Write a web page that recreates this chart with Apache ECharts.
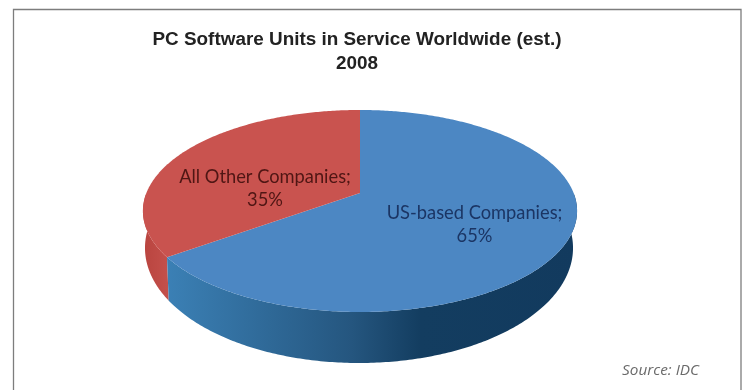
<!DOCTYPE html>
<html>
<head>
<meta charset="utf-8">
<style>html,body{margin:0;padding:0;background:#fff}#c{width:746px;height:390px}</style>
<script src="https://cdn.jsdelivr.net/npm/echarts@6/dist/echarts.min.js"></script>
</head>
<body>
<div id="c"></div>
<script>
const categories = ['US-based Companies', 'All Other Companies'];
const shares = [65, 35];
const titleLines = ['PC Software Units in Service Worldwide (est.)', '2008'];
const sourceNote = 'Source: IDC';

// Perspective disc: top face and the lowered rim of the base.
const disc = { cx: 360, cy: 193, rx: 213.6, ry: 97.8, tilt: 0.178 };
const base = { cx: 359, cy: 227.5, rx: 210.6, ry: 111.4, tilt: 0.178 };
const labelAt = [[474.5, 225], [265, 188.5]];
const topColors = ['#4c87c3', '#c9534f'];
const labelColors = ['#1b3564', '#4f1614'];
const wallFills = [
  { type: 'linear', x: 0, y: 0, x2: 1, y2: 0, colorStops: [
    { offset: 0, color: '#3b80b5' }, { offset: 0.45, color: '#25567f' },
    { offset: 0.62, color: '#133d60' }, { offset: 1, color: '#123a5e' } ] },
  { type: 'linear', x: 0, y: 0, x2: 1, y2: 0, colorStops: [
    { offset: 0, color: '#b9443f' }, { offset: 1, color: '#c4504b' } ] }
];

function project(d, deg) {
  const a = deg * Math.PI / 180, u = Math.sin(a), v = Math.cos(a), w = 1 + d.tilt * v;
  return [d.cx + d.rx * u / w, d.cy - d.ry * v / w];
}
function arc(d, from, to) {
  const pts = [], n = Math.max(2, Math.ceil(Math.abs(to - from) * 1.5));
  for (let i = 0; i <= n; i++) pts.push(project(d, from + (to - from) * i / n));
  return pts;
}

const total = shares.reduce((s, v) => s + v, 0);
const startAngle = shares.map((_, i) => shares.slice(0, i).reduce((s, v) => s + v, 0) / total * 360);

function renderSlice(params, api) {
  const i = params.dataIndex;
  const from = startAngle[i], to = from + api.value(1) / total * 360;
  const rim = arc(disc, from, to);
  // Only the part of the rim facing the viewer gets a wall.
  const wf = Math.max(from, 90), wt = Math.min(to, 270);
  const children = [];
  if (wt > wf) {
    children.push({
      type: 'polygon', z2: i === 0 ? 2 : 1,
      shape: { points: arc(disc, wf, wt).concat(arc(base, wf, wt).reverse()) },
      style: { fill: wallFills[i] }
    });
  }
  children.push({
    type: 'polygon', z2: 3,
    shape: { points: [[disc.cx, disc.cy]].concat(rim) },
    style: { fill: topColors[i] }
  });
  children.push({
    type: 'text', z2: 4,
    style: {
      x: labelAt[i][0], y: labelAt[i][1],
      text: categories[i] + ';\n' + api.value(1) + '%',
      fill: labelColors[i], font: '18.3px Lato', align: 'center', verticalAlign: 'middle', lineHeight: 23
    }
  });
  return { type: 'group', children };
}

const chart = echarts.init(document.getElementById('c'), null, { renderer: 'canvas' });
chart.setOption({
  backgroundColor: '#ffffff',
  animation: false,
  title: {
    text: titleLines.join('\n'), left: 352, top: 23, textAlign: 'center',
    textStyle: { fontFamily: '"Liberation Sans"', fontWeight: 'bold', fontSize: 18.9, lineHeight: 24, color: '#222222' }
  },
  graphic: [
    { type: 'polyline', shape: { points: [[13.5, 390], [13.5, 9.5], [741, 9.5], [741, 390]] },
      style: { stroke: '#7d7d7d', lineWidth: 1.3, fill: 'none' } },
    { type: 'text', style: { x: 699, y: 371, text: sourceNote, align: 'right', verticalAlign: 'middle',
      fill: '#6a6a6a', font: 'italic 15.3px "Open Sans"' } }
  ],
  xAxis: { show: false }, yAxis: { show: false },
  series: [{
    type: 'custom',
    coordinateSystem: 'none',
    data: categories.map((c, i) => [c, shares[i]]),
    renderItem: renderSlice
  }]
});
</script>
</body>
</html>
